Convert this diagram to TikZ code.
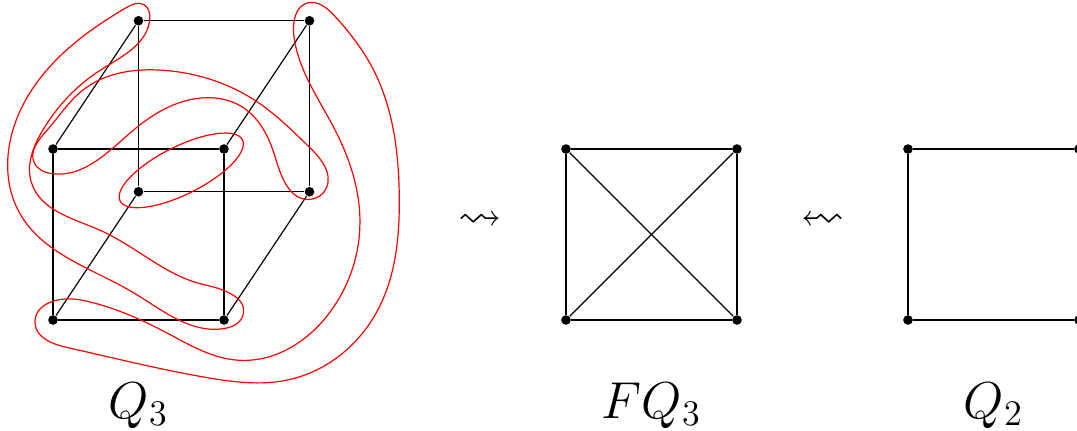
\documentclass[tikz,border=0pt]{standalone}
\usepackage{amsmath}
\usepackage{amssymb}
\usetikzlibrary{positioning,calc,hobby}

\begin{document}
\begin{tikzpicture}[
  vtx/.style={circle, fill=black, inner sep=0pt, minimum size=3.2pt},
  hedge/.style={red, line width=0.4pt, use Hobby shortcut, closed=true},
  lbl/.style={font=\LARGE},
  sqarrow/.style={font=\Large}
]
  \useasboundingbox (-0.62,-1.298) rectangle (11.977,3.743);

  % Q3
  \node[vtx] (q000) at (0,0) {};
  \node[vtx] (q100) at (2,0) {};
  \node[vtx] (q010) at (0,2) {};
  \node[vtx] (q110) at (2,2) {};
  \node[vtx] (q001) at (1,1.5) {};
  \node[vtx] (q101) at (3,1.5) {};
  \node[vtx] (q011) at (1,3.5) {};
  \node[vtx] (q111) at (3,3.5) {};
  \foreach \a/\b in {000/100, 000/010, 100/110, 010/110,
                     001/101, 001/011, 101/111, 011/111,
                     000/001, 100/101, 010/011, 110/111}
    \draw (q\a) -- (q\b);

  % antipodal pairs
  \draw[red, line width=0.4pt, rotate around={26.57:(1.5,1.75)}] (1.5,1.75) ellipse (0.8 and 0.28);
  \draw[hedge] (-0.22,1.84) .. (-0.07,2.22) .. (0.35,2.69) .. (1.3,2.92)
    .. (2.36,2.57) .. (3.0,2.02) .. (3.2,1.55) .. (3.0,1.41) .. (2.6,1.9)
    .. (2.2,2.5) .. (1.8,2.6) .. (0.94,2.22) .. (0.0,1.71);
  \draw[hedge] (1.06,3.69) .. (1.13,3.5) .. (0.55,2.92) .. (-0.12,2.22)
    .. (-0.25,1.6) .. (0.55,1.05) .. (1.78,0.41) .. (2.22,0.05) .. (2.0,-0.1)
    .. (0.94,0.32) .. (-0.39,1.25) .. (-0.5,2.1) .. (0.16,3.16) .. (0.85,3.65);
  \draw[hedge] (2.82,3.5) .. (2.95,3.70) .. (3.3,3.55) .. (3.73,2.96)
    .. (4.05,1.44) .. (3.8,0.12) .. (2.75,-0.7) .. (1.78,-0.67) .. (0.16,-0.32)
    .. (-0.21,-0.04) .. (0.35,0.23) .. (1.33,-0.15) .. (2.16,-0.47)
    .. (3.26,0.12) .. (3.59,1.14) .. (3.3,2.22) .. (2.83,3.24);

  \node[sqarrow] (arr1) at (5,1.15) {$\rightsquigarrow$};

  % FQ3
  \node[vtx] (f1) at (6,0) {};
  \node[vtx] (f2) at (8,0) {};
  \node[vtx] (f3) at (6,2) {};
  \node[vtx] (f4) at (8,2) {};
  \foreach \a/\b in {1/2, 1/3, 2/4, 3/4, 1/4, 2/3}
    \draw (f\a) -- (f\b);

  \node[sqarrow] (arr2) at (9,1.15) {\reflectbox{$\rightsquigarrow$}};

  % Q2
  \node[vtx] (s1) at (10,0) {};
  \node[vtx] (s2) at (12,0) {};
  \node[vtx] (s3) at (10,2) {};
  \node[vtx] (s4) at (12,2) {};
  \foreach \a/\b in {1/2, 1/3, 2/4, 3/4}
    \draw (s\a) -- (s\b);

  \node[lbl] (lq3) at (1,-1) {$Q_3$};
  \node[lbl] (lfq3) at (7,-1) {$FQ_3$};
  \node[lbl] (lq2) at (11,-1) {$Q_2$};
\end{tikzpicture}
\end{document}
